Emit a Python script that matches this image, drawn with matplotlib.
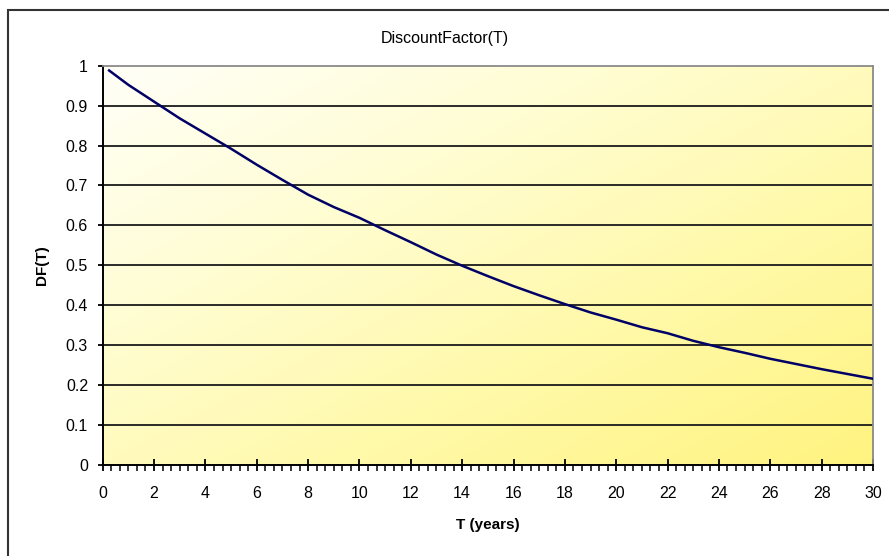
import numpy as np
import matplotlib
matplotlib.use("Agg")
import matplotlib.pyplot as plt
from matplotlib.patches import Rectangle
from matplotlib.colors import LinearSegmentedColormap

# data
T_years = [0.25, 1, 2, 3, 4, 5, 6, 7, 8, 9, 10, 11, 12, 13, 14, 15, 16, 17, 18, 19, 20,
           21, 22, 23, 24, 25, 26, 27, 28, 29, 30]
DF = [0.988, 0.952, 0.910, 0.868, 0.830, 0.792, 0.752, 0.714, 0.677, 0.646, 0.619,
      0.588, 0.558, 0.527, 0.499, 0.473, 0.448, 0.425, 0.403, 0.382, 0.364,
      0.345, 0.330, 0.311, 0.295, 0.281, 0.266, 0.253, 0.240, 0.228, 0.216]
x_ticks = list(range(0, 31, 2))
y_ticks = [0, 0.1, 0.2, 0.3, 0.4, 0.5, 0.6, 0.7, 0.8, 0.9, 1]
y_ticklabels = ["0", "0.1", "0.2", "0.3", "0.4", "0.5", "0.6", "0.7", "0.8", "0.9", "1"]

plt.rcParams['font.family'] = ['Liberation Sans', 'DejaVu Sans']

W, H = 889, 556
fig = plt.figure(figsize=(W / 100, H / 100), dpi=100)
fig.patch.set_facecolor('white')

left, right, top, bottom = 102.7, 873, 65.7, 465
ax = fig.add_axes([left / W, 1 - bottom / H, (right - left) / W, (bottom - top) / H])

# gradient background (white top-left to yellow bottom-right)
n = 200
xx, yy = np.meshgrid(np.linspace(0, 1, n), np.linspace(0, 1, n))
g = (xx * 0.5 + yy * 0.5)
cmap = LinearSegmentedColormap.from_list('yl', ['#FFFFF8', '#FFFDD2', '#FFF9A8', '#FFF380'])
ax.imshow(g, cmap=cmap, extent=[0, 1, 0, 1], transform=ax.transAxes,
          aspect='auto', zorder=0, origin='upper', interpolation='bilinear')

for yv in y_ticks[1:-1]:
    ax.axhline(yv, color='#1a1a1a', lw=1.3, zorder=1)

ax.plot(T_years, DF, color='#000066', lw=1.8, zorder=3)

ax.set_xlim(0, 30)
ax.set_ylim(0, 1)
ax.set_xticks(x_ticks)
ax.set_xticklabels([str(v) for v in x_ticks])
ax.set_xticks(np.arange(0, 30.01, 1 / 3), minor=True)
ax.set_yticks(y_ticks)
ax.set_yticklabels(y_ticklabels)

ax.tick_params(axis='x', which='major', direction='inout', length=8, width=1.3,
               labelsize=11.5, pad=11, color='black')
ax.tick_params(axis='x', which='minor', direction='out', length=4, width=1.1, color='black')
ax.tick_params(axis='y', which='major', direction='out', length=3.5, width=1.3,
               labelsize=11.5, pad=7, color='black')

for s in ['left', 'bottom']:
    ax.spines[s].set_color('black')
    ax.spines[s].set_linewidth(1.4)
for s in ['top', 'right']:
    ax.spines[s].set_color('#8a8a8a')
    ax.spines[s].set_linewidth(1.3)

ax.set_xlabel('T (years)', fontsize=11, fontweight='bold', labelpad=12)
ax.set_ylabel('DF(T)', fontsize=11, fontweight='bold', labelpad=12)

fig.text(445 / W, 1 - 38 / H, 'DiscountFactor(T)', ha='center', va='center', fontsize=11.5)

# outer chart frame
fig.patches.append(Rectangle((8 / W, -0.05), 1.1, 1 - 10 / H + 0.05, transform=fig.transFigure,
                             fill=False, edgecolor='#333333', lw=1.5, zorder=10))

fig.savefig('out.png', dpi=100)
